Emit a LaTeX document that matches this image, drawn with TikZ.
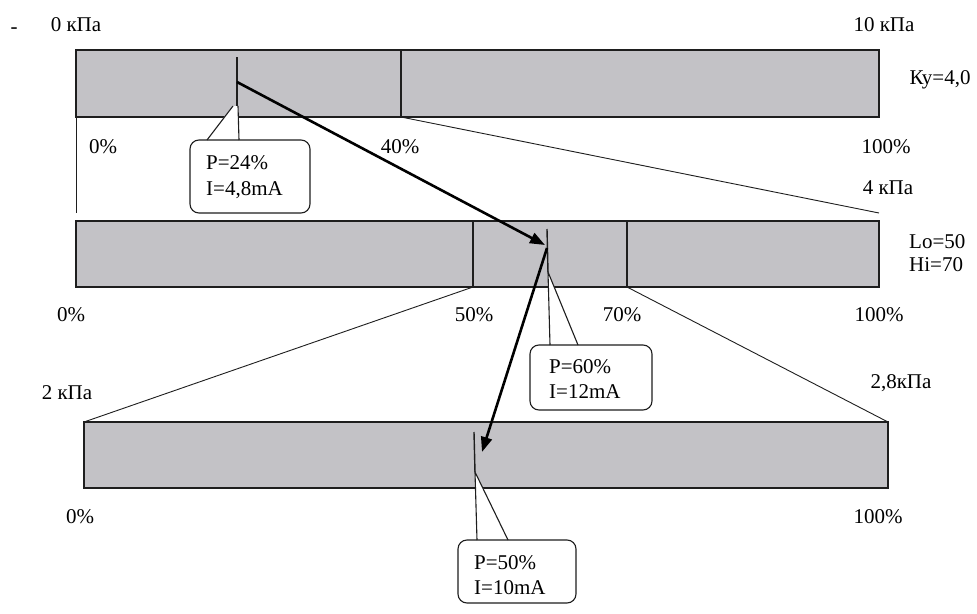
\documentclass[tikz,border=0pt]{standalone}
\usepackage{fontspec}
\setmainfont{Liberation Serif}
\usetikzlibrary{arrows.meta}
\definecolor{barfill}{RGB}{195,194,198}
\definecolor{ink}{RGB}{30,30,30}
\begin{document}
\begin{tikzpicture}[x=1pt,y=-1pt,
  lbl/.style={inner sep=0pt, font=\fontsize{21}{23}\selectfont},
  bar/.style={fill=barfill, draw=ink, line width=1.6pt},
  tick/.style={draw=ink, line width=1.4pt},
  thinl/.style={draw=ink, line width=0.9pt},
  arr/.style={draw=black, line width=2.6pt, -{Triangle[length=15pt,width=11pt]}},
  callbox/.style={fill=white, draw=ink, line width=1.1pt, rounded corners=9pt},
  tailline/.style={draw=ink, line width=1.1pt}]

\useasboundingbox[fill=white] (0,0) rectangle (977,613);

% ---------- bar 1 ----------
\coordinate (b1tl) at (76,50);  \coordinate (b1br) at (879,117);
\coordinate (b1bl) at (76,117);
\draw[bar] (b1tl) rectangle (b1br);
\coordinate (d40t) at (401,50); \coordinate (d40b) at (401,117);
\draw[tick] (d40t) -- (d40b);
\coordinate (m1t) at (237,57); \coordinate (m1b) at (237,106);
\draw[tick] (m1t) -- (m1b);

% ---------- bar 2 ----------
\coordinate (b2tl) at (76,221); \coordinate (b2br) at (879,287);
\coordinate (z1l) at (76,213);  \coordinate (z1r) at (879,213);
\draw[thinl] (b1bl) -- (z1l);
\draw[thinl] (d40b) -- (z1r);
\draw[bar] (b2tl) rectangle (b2br);
\coordinate (d50t) at (473,221); \coordinate (d50b) at (473,287);
\coordinate (d70t) at (627,221); \coordinate (d70b) at (627,287);
\draw[tick] (d50t) -- (d50b);
\draw[tick] (d70t) -- (d70b);
\coordinate (m2t) at (547,229); \coordinate (m2b) at (548,272);
\draw[tick] (m2t) -- (m2b);

% ---------- bar 3 ----------
\coordinate (b3tl) at (84,422); \coordinate (b3tr) at (888,422);
\coordinate (b3br) at (888,488);
\draw[thinl] (d50b) -- (b3tl);
\draw[thinl] (d70b) -- (b3tr);
\draw[bar] (b3tl) rectangle (b3br);
\coordinate (m3t) at (474,432); \coordinate (m3b) at (475,472);
\draw[tick] (m3t) -- (m3b);

% ---------- callout 1 ----------
\coordinate (c1a) at (190,140); \coordinate (c1b) at (310,213);
\coordinate (t1l) at (207,140); \coordinate (t1r) at (239,140);
\coordinate (t1tl) at (233,106); \coordinate (t1tr) at (238,106);
\draw[callbox] (c1a) rectangle (c1b);
\fill[white] ([yshift=1.5pt]t1l) -- (t1tl) -- (t1tr) -- ([yshift=1.5pt]t1r) -- cycle;
\draw[tailline] (t1l) -- (t1tl);
\draw[tailline] (t1tr) -- (t1r);
\node[lbl, anchor=west] (p1) at (206,163) {P=24\%};
\node[lbl, anchor=west] (i1) at (206,190) {I=4,8mA};

% ---------- callout 2 ----------
\coordinate (c2a) at (530,345); \coordinate (c2b) at (652,410);
\coordinate (t2l) at (550,345); \coordinate (t2r) at (578,345);
\draw[callbox] (c2a) rectangle (c2b);
\fill[white] ([yshift=1.5pt]t2l) -- (m2b) -- ([yshift=1.5pt]t2r) -- cycle;
\draw[tailline] (t2l) -- (m2b) -- (t2r);
\node[lbl, anchor=west] (p2) at (549,367) {P=60\%};
\node[lbl, anchor=west] (i2) at (549,392) {I=12mA};

% ---------- callout 3 ----------
\coordinate (c3a) at (458,540); \coordinate (c3b) at (576,603);
\coordinate (t3l) at (477,540); \coordinate (t3r) at (508,540);
\draw[callbox] (c3a) rectangle (c3b);
\fill[white] ([yshift=1.5pt]t3l) -- (m3b) -- ([yshift=1.5pt]t3r) -- cycle;
\draw[tailline] (t3l) -- (m3b) -- (t3r);
\node[lbl, anchor=west] (p3) at (474,563) {P=50\%};
\node[lbl, anchor=west] (i3) at (474,588) {I=10mA};

% ---------- arrows ----------
\coordinate (a1s) at (237,82);  \coordinate (a1e) at (545,245);
\coordinate (a2s) at (547,248); \coordinate (a2e) at (482,452);
\draw[arr] (a1s) -- (a1e);
\draw[arr] (a2s) -- (a2e);

% ---------- labels ----------
\node[lbl] (dash) at (14,31) {-};
\node[lbl] (k0) at (76,25) {0 кПа};
\node[lbl] (k10) at (884,25) {10 кПа};
\node[lbl] (ky) at (940,80) {Ку=4,0};
\node[lbl] (p0a) at (103,147) {0\%};
\node[lbl] (p40) at (400,147) {40\%};
\node[lbl] (p100a) at (886,147) {100\%};
\node[lbl] (k4) at (888,188) {4 кПа};
\node[lbl, anchor=west] (lo) at (909,242) {Lo=50};
\node[lbl, anchor=west] (hi) at (909,265) {Hi=70};
\node[lbl] (p0b) at (71,315) {0\%};
\node[lbl] (p50) at (474,315) {50\%};
\node[lbl] (p70) at (622,315) {70\%};
\node[lbl] (p100b) at (879,315) {100\%};
\node[lbl] (k2) at (67,393) {2 кПа};
\node[lbl] (k28) at (901,383) {2,8кПа};
\node[lbl] (p0c) at (80,517) {0\%};
\node[lbl] (p100c) at (878,517) {100\%};
\end{tikzpicture}
\end{document}
